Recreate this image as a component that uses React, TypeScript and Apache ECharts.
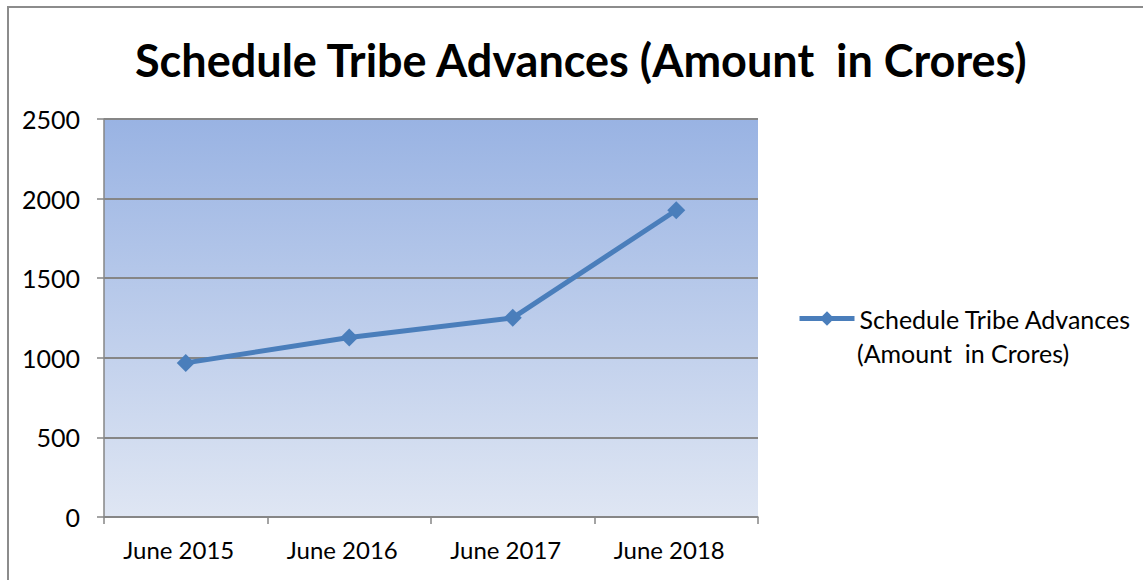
import React, { useEffect, useRef } from "react";
import * as echarts from "echarts";

const categories = ["June 2015", "June 2016", "June 2017", "June 2018"];
const values = [968, 1128, 1251, 1927];
const yTicks = { min: 0, max: 2500, interval: 500 };
const titleText = "Schedule Tribe Advances (Amount  in Crores)";
const seriesName = "Schedule Tribe Advances";
const legendSecondLine = "(Amount  in Crores)";

export default function App() {
  const ref = useRef<HTMLDivElement>(null);
  useEffect(() => {
    if (!ref.current) return;
    const chart = echarts.init(ref.current, undefined, { renderer: "svg" });
    const font = "Lato";
    chart.setOption({
      animation: false,
      backgroundColor: "#ffffff",
      title: {
        text: titleText,
        left: 130,
        top: 32,
        textStyle: { fontFamily: font, fontWeight: "bold", fontSize: 45, color: "#000" },
      },
      graphic: [
        {
          type: "rect",
          shape: { x: 8, y: 7, width: 1300, height: 700 },
          style: { fill: "none", stroke: "#8c8c8c", lineWidth: 2 },
          silent: true,
        },
        {
          type: "text",
          left: 857,
          top: 340,
          style: { text: legendSecondLine, fontFamily: font, fontSize: 25, fill: "#000" },
          silent: true,
        },
      ],
      grid: {
        left: 104,
        top: 119,
        right: 385,
        bottom: 63,
        show: true,
        borderWidth: 0,
        backgroundColor: new echarts.graphic.LinearGradient(0, 0, 0, 1, [
          { offset: 0, color: "#99b3e3" },
          { offset: 1, color: "#dfe6f3" },
        ]),
      },
      legend: {
        left: 797,
        top: 306,
        padding: 0,
        itemWidth: 55,
        itemHeight: 18,
        itemGap: 0,
        lineStyle: { width: 5, color: "#4a7ebb" },
        textStyle: { fontFamily: font, fontSize: 25, color: "#000" },
      },
      xAxis: {
        type: "category",
        data: categories,
        boundaryGap: true,
        axisLine: { lineStyle: { color: "#868686", width: 1.5 } },
        axisTick: { show: true, length: 7, inside: false, lineStyle: { color: "#868686", width: 1.5 } },
        axisLabel: { fontFamily: font, fontSize: 24, color: "#000", margin: 20, padding: [0, 14, 0, 0] },
      },
      yAxis: {
        type: "value",
        min: yTicks.min,
        max: yTicks.max,
        interval: yTicks.interval,
        axisLine: { show: true, lineStyle: { color: "#868686", width: 1.5 } },
        axisTick: { show: true, length: 7, lineStyle: { color: "#868686", width: 1.5 } },
        axisLabel: {
          fontFamily: font,
          fontSize: 25,
          color: "#000",
          margin: 24,
          formatter: (v: number) => String(v),
        },
        splitLine: { show: true, lineStyle: { color: "#868686", width: 2 } },
      },
      series: [
        {
          name: seriesName,
          type: "line",
          data: values,
          symbol: "diamond",
          symbolSize: 18,
          itemStyle: { color: "#4a7ebb" },
          lineStyle: { color: "#4a7ebb", width: 5 },
        },
      ],
    });
    return () => chart.dispose();
  }, []);
  return (
    <div
      ref={ref}
      style={{ position: "fixed", left: 0, top: 0, width: 1143, height: 580 }}
    />
  );
}
